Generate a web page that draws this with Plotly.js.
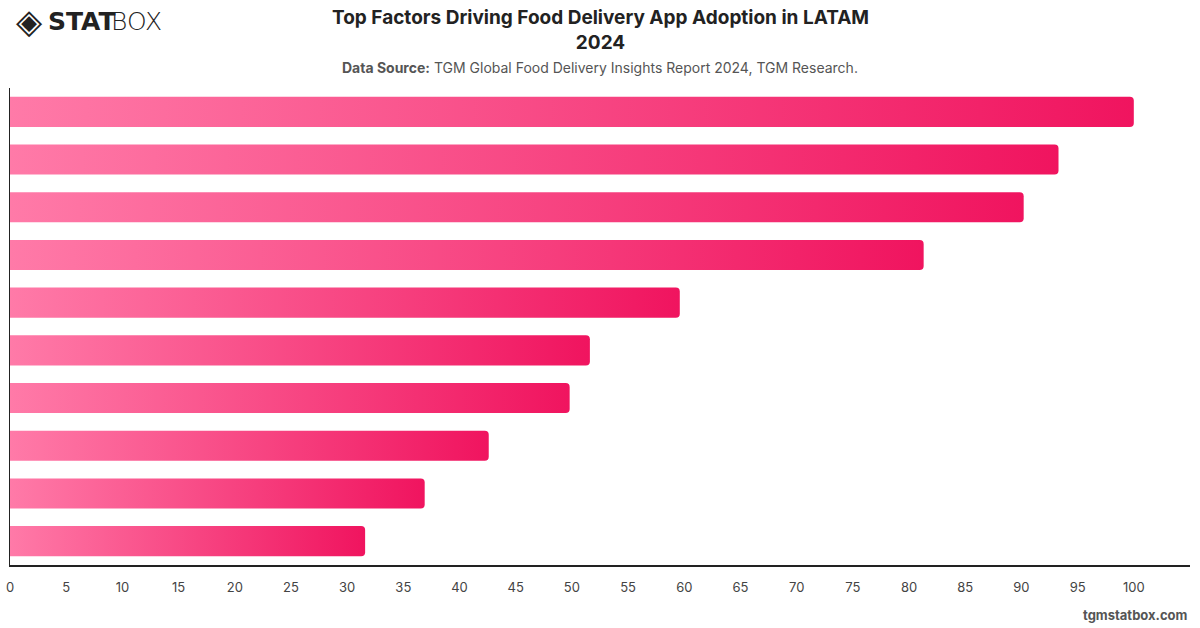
<!DOCTYPE html>
<html>
<head>
<meta charset="utf-8">
<script src="https://cdn.plot.ly/plotly-3.0.1.min.js"></script>
<style>
  html, body { margin: 0; padding: 0; background: #fff; }
  #chart { width: 1200px; height: 628px; }
</style>
</head>
<body>
<div id="chart"></div>
<script>
// Category labels are not shown in the reference; neutral names used.
const categories = ["Factor 1", "Factor 2", "Factor 3", "Factor 4", "Factor 5",
                    "Factor 6", "Factor 7", "Factor 8", "Factor 9", "Factor 10"];
const values = [100, 93.3, 90.2, 81.3, 59.6, 51.6, 49.8, 42.6, 36.9, 31.6];
const xTickValues = [0, 5, 10, 15, 20, 25, 30, 35, 40, 45, 50, 55, 60, 65, 70, 75, 80, 85, 90, 95, 100];

const FONT = "Inter, 'Helvetica Neue', Arial, sans-serif";
const PLOT_TOP = 88, PLOT_H = 477, PLOT_L = 10, PLOT_W = 1180;
const py = px => 1 + (PLOT_TOP - px) / PLOT_H;   // pixel row -> paper y
const pxX = px => (px - PLOT_L) / PLOT_W;         // pixel col -> paper x

const trace = {
  type: "bar",
  orientation: "h",
  x: values,
  y: categories,
  width: 0.63,
  marker: { color: "#f5306f", cornerradius: 4, line: { width: 0 } },
  hoverinfo: "x+y"
};

const layout = {
  width: 1200,
  height: 628,
  margin: { l: 10, r: 10, t: 88, b: 63 },
  paper_bgcolor: "#ffffff",
  plot_bgcolor: "#ffffff",
  showlegend: false,
  font: { family: FONT, color: "#333" },
  xaxis: {
    range: [0, 105],
    tickvals: xTickValues,
    ticktext: xTickValues.map(String),
    showgrid: false,
    zeroline: false,
    showline: true,
    linecolor: "#222",
    linewidth: 1.5,
    ticks: "",
    ticklabelstandoff: 10,
    tickfont: { family: FONT, size: 13, color: "#444" }
  },
  yaxis: {
    range: [9.5, -0.5],
    showticklabels: false,
    showgrid: false,
    zeroline: false,
    showline: true,
    linecolor: "#222",
    linewidth: 1.5,
    ticks: ""
  },
  annotations: [
    {
      text: "<b>Top Factors Driving Food Delivery App Adoption in LATAM<br>2024</b>",
      xref: "paper", yref: "paper",
      x: pxX(600), xanchor: "center",
      y: py(30), yanchor: "middle",
      showarrow: false,
      font: { family: FONT, size: 19, color: "#222" }
    },
    {
      text: "<b>Data Source:</b> TGM Global Food Delivery Insights Report 2024, TGM Research.",
      xref: "paper", yref: "paper",
      x: pxX(600), xanchor: "center",
      y: py(67), yanchor: "middle",
      showarrow: false,
      font: { family: FONT, size: 14, color: "#555" }
    },
    {
      text: "tgmstatbox.com",
      xref: "paper", yref: "paper",
      x: 1, xanchor: "right",
      y: py(615), yanchor: "middle",
      showarrow: false,
      font: { family: FONT, size: 13, color: "#555", weight: "bold" }
    },
    {
      text: "◈",
      xref: "paper", yref: "paper",
      x: pxX(29), xanchor: "center",
      y: py(21), yanchor: "middle",
      showarrow: false,
      font: { family: "DejaVu Sans", size: 34, color: "#222" }
    },
    {
      text: "<b>STAT</b>",
      xref: "paper", yref: "paper",
      x: pxX(46), xanchor: "left",
      y: py(21), yanchor: "middle",
      showarrow: false,
      font: { family: "'DejaVu Sans', sans-serif", size: 25, color: "#222", weight: 900 }
    },
    {
      text: "BOX",
      xref: "paper", yref: "paper",
      x: pxX(109), xanchor: "left",
      y: py(21), yanchor: "middle",
      showarrow: false,
      font: { family: "'DejaVu Sans', sans-serif", size: 25, color: "#222", weight: 300 }
    }
  ]
};

function applyGradient(gd) {
  const svg = gd.querySelector("svg.main-svg");
  if (!svg) return;
  const ns = "http://www.w3.org/2000/svg";
  let defs = svg.querySelector("defs");
  if (!defs) { defs = document.createElementNS(ns, "defs"); svg.insertBefore(defs, svg.firstChild); }
  if (!svg.querySelector("#barGrad")) {
    const lg = document.createElementNS(ns, "linearGradient");
    lg.setAttribute("id", "barGrad");
    lg.setAttribute("x1", "0"); lg.setAttribute("y1", "0");
    lg.setAttribute("x2", "1"); lg.setAttribute("y2", "0");
    const stops = [["0%", "#ff7aa8"], ["100%", "#f0145f"]];
    stops.forEach(([o, c]) => {
      const s = document.createElementNS(ns, "stop");
      s.setAttribute("offset", o); s.setAttribute("stop-color", c);
      lg.appendChild(s);
    });
    defs.appendChild(lg);
  }
  gd.querySelectorAll(".trace.bars .point path").forEach(p => {
    p.style.fill = "url(#barGrad)";
  });
}

Plotly.newPlot("chart", [trace], layout, { displayModeBar: false, staticPlot: true }).then(gd => {
  applyGradient(gd);
  gd.on && gd.on("plotly_afterplot", () => applyGradient(gd));
});
</script>
</body>
</html>
